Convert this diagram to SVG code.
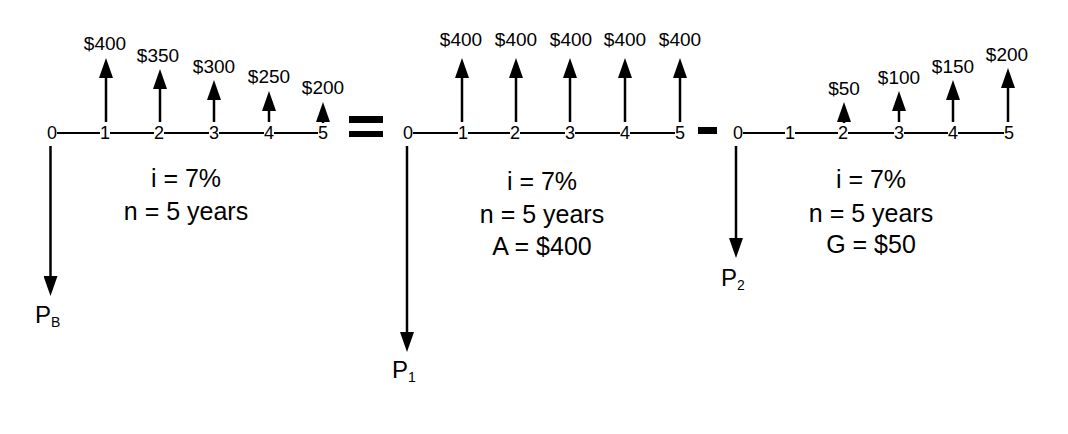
<svg xmlns="http://www.w3.org/2000/svg" width="1068" height="434" viewBox="0 0 1068 434">
<defs>
<marker id="ah" markerUnits="userSpaceOnUse" markerWidth="20" markerHeight="14" refX="0" refY="7" orient="auto" viewBox="0 0 20 14">
<path d="M0,0 L20,7 L0,14 z" fill="#000"/>
</marker>
</defs>
<style>
text{font-family:"Liberation Sans",Arial,sans-serif;fill:#000}
.d{font-size:18px;text-anchor:middle}
.v{font-size:19px;text-anchor:middle}
.t{font-size:25px;text-anchor:middle}
.p{font-size:24px}
.s{font-size:14px}
.tl{stroke:#000;stroke-width:2;fill:none}
.ar{stroke:#000;stroke-width:2.5;fill:none;marker-end:url(#ah)}
.sg{fill:#000}
</style>
<rect width="1068" height="434" fill="#fff"/>

<g id="diagram-PB">
<text class="d" x="52" y="139">0</text>
<text class="d" x="105" y="139">1</text>
<text class="d" x="159" y="139">2</text>
<text class="d" x="214" y="139">3</text>
<text class="d" x="269" y="139">4</text>
<text class="d" x="323" y="139">5</text>
<path class="tl" d="M57,133H100M110,133H154M164,133H209M219,133H264M274,133H318"/>
<text class="v" x="105" y="50">$400</text>
<text class="v" x="158" y="62">$350</text>
<text class="v" x="214" y="73">$300</text>
<text class="v" x="269" y="83">$250</text>
<text class="v" x="323" y="94">$200</text>
<text class="t" x="186" y="187">i = 7%</text>
<text class="t" x="186" y="220">n = 5 years</text>
<text class="p" x="35" y="323">P<tspan class="s" dy="4">B</tspan></text>
</g>

<g id="equals">
<rect class="sg" x="349" y="116" width="34" height="7"/>
<rect class="sg" x="349" y="131" width="34" height="6"/>
</g>

<g id="diagram-P1">
<text class="d" x="408" y="139">0</text>
<text class="d" x="463" y="139">1</text>
<text class="d" x="515" y="139">2</text>
<text class="d" x="570" y="139">3</text>
<text class="d" x="625" y="139">4</text>
<text class="d" x="680" y="139">5</text>
<path class="tl" d="M413,133H458M468,133H510M520,133H565M575,133H620M630,133H675"/>
<text class="v" x="461" y="46">$400</text>
<text class="v" x="516" y="46">$400</text>
<text class="v" x="571" y="46">$400</text>
<text class="v" x="625" y="46">$400</text>
<text class="v" x="680" y="46">$400</text>
<text class="t" x="542" y="190">i = 7%</text>
<text class="t" x="542" y="223">n = 5 years</text>
<text class="t" x="542" y="255">A = $400</text>
<text class="p" x="392" y="378">P<tspan class="s" dy="4">1</tspan></text>
</g>

<g id="minus">
<rect class="sg" x="698" y="127" width="19" height="7"/>
</g>

<g id="diagram-P2">
<text class="d" x="738" y="139">0</text>
<text class="d" x="790" y="139">1</text>
<text class="d" x="843" y="139">2</text>
<text class="d" x="899" y="139">3</text>
<text class="d" x="953" y="139">4</text>
<text class="d" x="1009" y="139">5</text>
<path class="tl" d="M743,133H785M795,133H838M848,133H894M904,133H948M958,133H1004"/>
<text class="v" x="844" y="95">$50</text>
<text class="v" x="899" y="84">$100</text>
<text class="v" x="953" y="73">$150</text>
<text class="v" x="1007" y="61">$200</text>
<text class="t" x="871" y="188">i = 7%</text>
<text class="t" x="871" y="222">n = 5 years</text>
<text class="t" x="871" y="253">G = $50</text>
<text class="p" x="721" y="286">P<tspan class="s" dy="4">2</tspan></text>
</g>

<g id="connectors">
<line class="ar" x1="106" y1="122" x2="106" y2="78"/>
<line class="ar" x1="160" y1="122" x2="160" y2="89"/>
<line class="ar" x1="214" y1="122" x2="214" y2="100"/>
<line class="ar" x1="269" y1="122" x2="269" y2="111"/>
<line class="ar" x1="323" y1="123" x2="323" y2="122"/>
<line class="ar" x1="50.5" y1="146" x2="50.5" y2="276"/>

<line class="ar" x1="462" y1="122" x2="462" y2="78"/>
<line class="ar" x1="516" y1="122" x2="516" y2="78"/>
<line class="ar" x1="570" y1="122" x2="570" y2="78"/>
<line class="ar" x1="625" y1="122" x2="625" y2="78"/>
<line class="ar" x1="680" y1="122" x2="680" y2="78"/>
<line class="ar" x1="407" y1="146" x2="407" y2="332"/>

<line class="ar" x1="844" y1="123" x2="844" y2="122"/>
<line class="ar" x1="899" y1="122" x2="899" y2="111"/>
<line class="ar" x1="953" y1="122" x2="953" y2="100"/>
<line class="ar" x1="1008" y1="122" x2="1008" y2="88"/>
<line class="ar" x1="736" y1="146" x2="736" y2="238"/>
</g>
</svg>
